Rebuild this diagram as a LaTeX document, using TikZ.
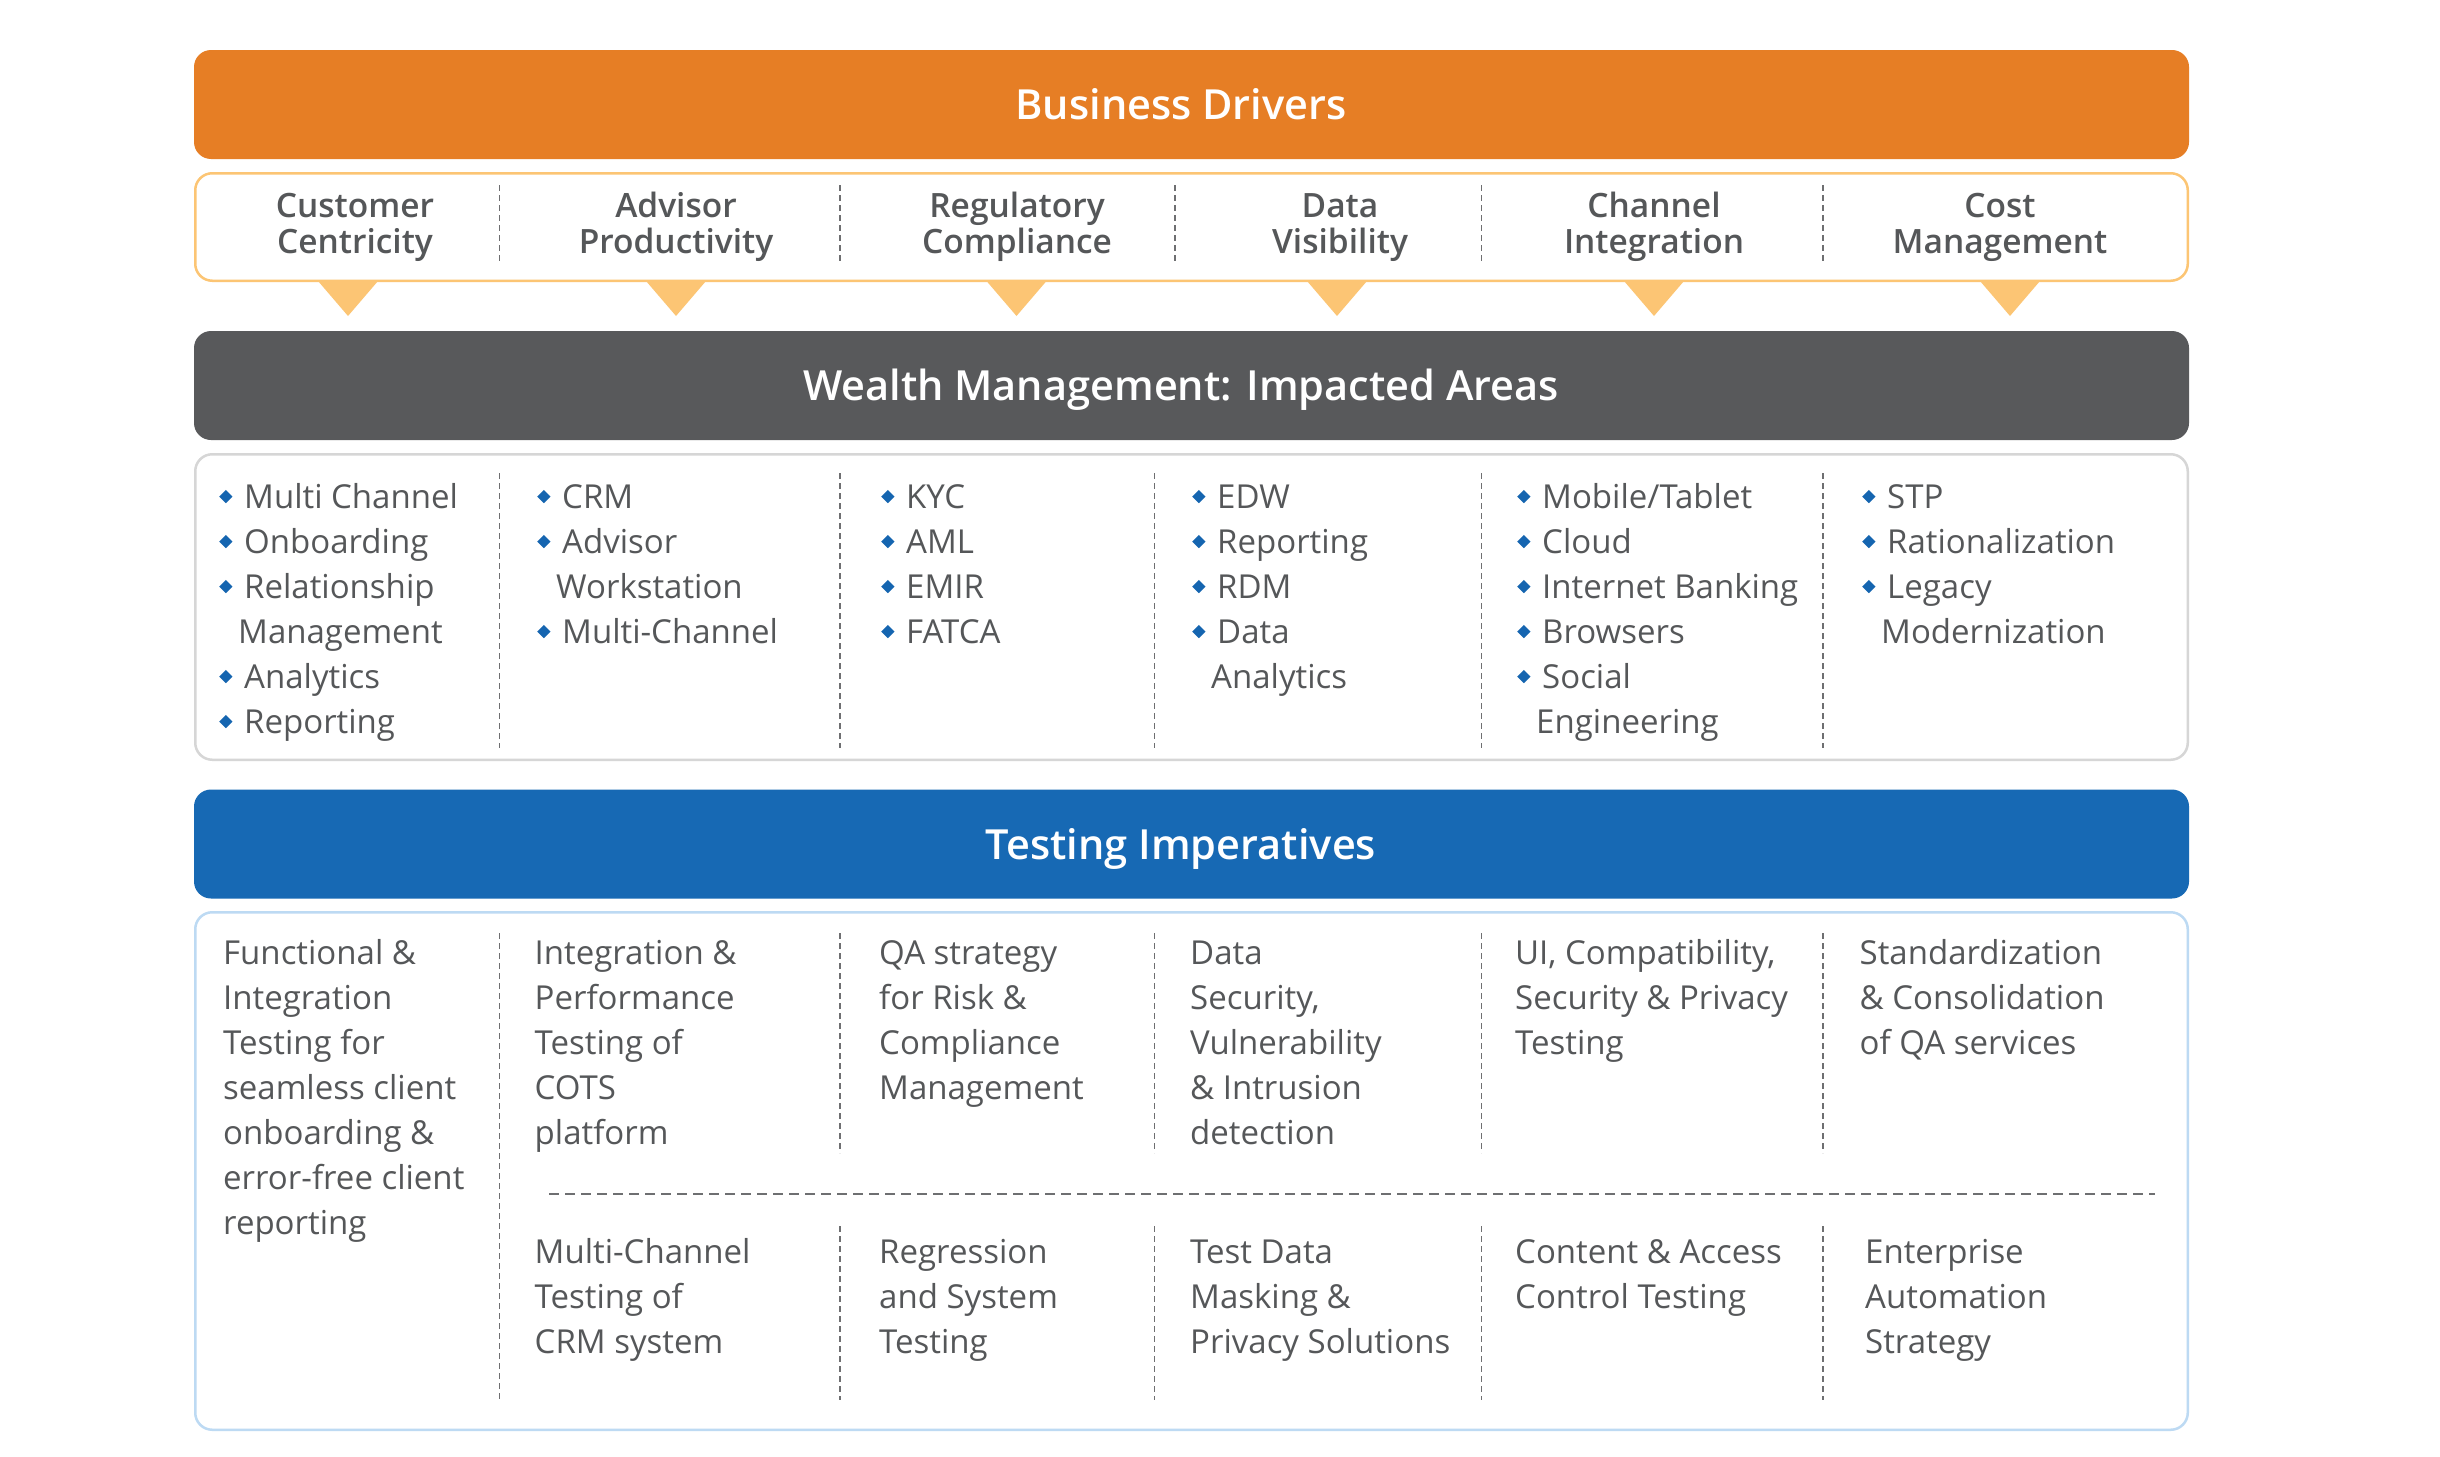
\documentclass[tikz,border=0pt]{standalone}
\usepackage{fontspec}
\usepackage{xcolor}
\usepackage{graphicx}
\usepackage{tikz}
\setmainfont{Open Sans}
\IfFontExistsTF{Open Sans Semibold}{\newfontfamily\sbfont{Open Sans Semibold}}
  {\IfFontExistsTF{OpenSans-Semibold}{\newfontfamily\sbfont{OpenSans-Semibold}}
    {\IfFontExistsTF{OpenSans-SemiBold}{\newfontfamily\sbfont{OpenSans-SemiBold}}{\newcommand{\sbfont}{\bfseries}}}}
\definecolor{drvorange}{RGB}{230,126,37}
\definecolor{drvlight}{RGB}{252,197,116}
\definecolor{wmgray}{RGB}{88,89,91}
\definecolor{wmline}{RGB}{214,214,214}
\definecolor{tiblue}{RGB}{23,105,180}
\definecolor{tiline}{RGB}{189,218,243}
\definecolor{txtgray}{RGB}{85,87,89}
\definecolor{sepgray}{RGB}{110,111,113}
\definecolor{bulblue}{RGB}{21,101,176}
\newcommand{\bul}{\makebox[25pt][l]{\raisebox{5.5pt}{\color{bulblue}\rotatebox{45}{\rule{9.4pt}{9.4pt}}}}}
\newcommand{\cont}{\hspace*{19pt}}
\newcommand{\topstrut}{\rule{0pt}{25.2pt}}

\begin{document}
\begin{tikzpicture}[x=1pt,y=-1pt,
  bar/.style={rounded corners=17pt, minimum width=1995pt, minimum height=109pt, inner sep=0pt},
  bartitle/.style={anchor=base, text=white, inner sep=0pt, font=\sbfont\fontsize{41.5}{48}\selectfont},
  panel/.style={draw, line width=2.5pt, rounded corners=17pt, minimum width=1992.5pt, inner sep=0pt},
  drvlabel/.style={anchor=north, align=center, text=txtgray, inner sep=0pt, font=\sbfont\fontsize{33.5}{36}\selectfont},
  bodytext/.style={anchor=north west, align=left, text=txtgray, inner sep=0pt, font=\fontsize{33}{45}\selectfont},
  sep/.style={draw=sepgray, line width=1.8pt, dash pattern=on 6pt off 4pt}]
  \fill[white] (0,0) rectangle (2440,1456);
  \useasboundingbox (0,0) rectangle (2440,1456);

  % business drivers
  \node[bar, fill=drvorange] (drvbar) at (1191.5,104.5) {};
  \node[bartitle] (drvtitle) at (1181,119) {Business Drivers};
  \node[panel, draw=drvlight, minimum height=107.5pt] (drvbox) at (1191.5,227) {};
  \foreach \x in {499.5,840,1175,1481.5,1823} { \draw[sep] (\x,185) -- (\x,263); }
  \foreach \x/\name/\txt in {355/cust/{Customer\\Centricity}, 676/advp/{Advisor\\Productivity},
      1017/regc/{Regulatory\\Compliance}, 1340/datav/{Data\\Visibility},
      1654/chint/{Channel\\Integration}, 2000/costm/{Cost\\Management}}
    { \node[drvlabel] (\name) at (\x,192) {\topstrut\txt}; }
  \foreach \x in {348,676,1016.5,1337,1654,2010} { \fill[drvlight] (\x-30,281) -- (\x+30,281) -- (\x,316) -- cycle; }

  % impacted areas
  \node[bar, fill=wmgray] (wmbar) at (1191.5,385.5) {};
  \node[bartitle] (wmtitle) at (1181,400.5) {Wealth Management: Impacted Areas};
  \node[panel, draw=wmline, minimum height=305.5pt] (wmbox) at (1191.5,607) {};
  \foreach \x in {499.5,840,1154.5,1481.5,1823} { \draw[sep] (\x,473) -- (\x,748); }
  \node[bodytext] (wmcust) at (219,477) {\strut\bul Multi Channel\\\bul Onboarding\\\bul Relationship\\\cont Management\\\bul Analytics\\\bul Reporting};
  \node[bodytext] (wmadvp) at (537,477) {\strut\bul CRM\\\bul Advisor\\\cont Workstation\\\bul Multi-Channel};
  \node[bodytext] (wmregc) at (881,477) {\strut\bul KYC\\\bul AML\\\bul EMIR\\\bul FATCA};
  \node[bodytext] (wmdatav) at (1192,477) {\strut\bul EDW\\\bul Reporting\\\bul RDM\\\bul Data\\\cont Analytics};
  \node[bodytext] (wmchint) at (1517,477) {\strut\bul Mobile/Tablet\\\bul Cloud\\\bul Internet Banking\\\bul Browsers\\\bul Social\\\cont Engineering};
  \node[bodytext] (wmcostm) at (1862,477) {\strut\bul STP\\\bul Rationalization\\\bul Legacy\\\cont Modernization};

  % testing imperatives
  \node[bar, fill=tiblue] (tibar) at (1191.5,844) {};
  \node[bartitle] (tititle) at (1181,859) {Testing Imperatives};
  \node[panel, draw=tiline, minimum height=517.5pt] (tibox) at (1191.5,1171) {};
  \draw[sep] (499.5,933) -- (499.5,1400);
  \foreach \x in {840,1154.5,1481.5,1823} { \draw[sep] (\x,933) -- (\x,1153); \draw[sep] (\x,1226) -- (\x,1400); }
  \draw[sep, dash pattern=on 10pt off 6pt] (549,1194) -- (2155,1194);
  \node[bodytext] (tifunc) at (223,933) {\strut Functional \&\\Integration\\Testing for\\seamless client\\onboarding \&\\error-free client\\reporting};
  \node[bodytext] (tiperf) at (534.5,933) {\strut Integration \&\\Performance\\Testing of\\COTS\\platform};
  \node[bodytext] (tirisk) at (879,933) {\strut QA strategy\\for Risk \&\\Compliance\\Management};
  \node[bodytext] (tisec) at (1190,933) {\strut Data\\Security,\\Vulnerability\\\& Intrusion\\detection};
  \node[bodytext] (tiui) at (1515,933) {\strut UI, Compatibility,\\Security \& Privacy\\Testing};
  \node[bodytext] (tistd) at (1859.5,933) {\strut Standardization\\\& Consolidation\\of QA services};
  \node[bodytext] (ticrm) at (534.5,1232) {\strut Multi-Channel\\Testing of\\CRM system};
  \node[bodytext] (tireg) at (879,1232) {\strut Regression\\and System\\Testing};
  \node[bodytext] (timask) at (1190,1232) {\strut Test Data\\Masking \&\\Privacy Solutions};
  \node[bodytext] (tiacc) at (1515,1232) {\strut Content \& Access\\Control Testing};
  \node[bodytext] (tiauto) at (1865,1232) {\strut Enterprise\\Automation\\Strategy};
\end{tikzpicture}
\end{document}
